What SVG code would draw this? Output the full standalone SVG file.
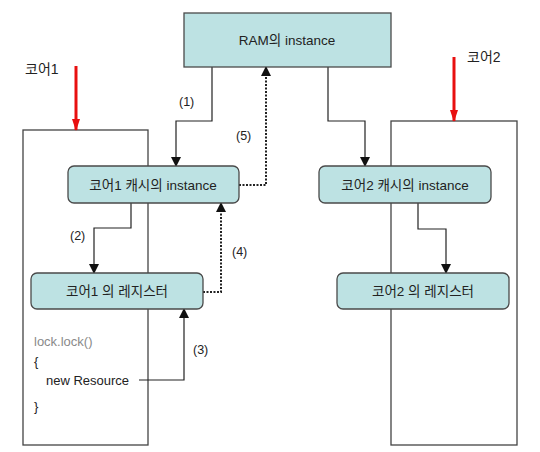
<svg xmlns="http://www.w3.org/2000/svg" width="540" height="452" viewBox="0 0 540 452">
<defs>
<style>
.core{fill:#fff;stroke:#444;stroke-width:1.3}
.node{fill:#bde2e3;stroke:#4a4a4a;stroke-width:1.3}
.t{font-family:"Liberation Sans","Noto Sans CJK KR",sans-serif;font-size:13.5px;fill:#222;text-anchor:middle}
.lbl{font-family:"Liberation Sans","Noto Sans CJK KR",sans-serif;font-size:12.5px;fill:#222}
.code{font-family:"Liberation Sans","Noto Sans CJK KR",sans-serif;font-size:13px;fill:#222}
.conn{fill:none;stroke:#222;stroke-width:1.2}
.dot{fill:none;stroke:#222;stroke-width:2;stroke-dasharray:2 1.5}
.red{fill:none;stroke:#e81010;stroke-width:3}
</style>
<marker id="ah" markerWidth="10" markerHeight="10" refX="9" refY="5" orient="auto" markerUnits="userSpaceOnUse">
<path d="M0,0 L10,5 L0,10 z" fill="#111"/>
</marker>
<marker id="rh" markerWidth="12" markerHeight="10" refX="11" refY="5" orient="auto" markerUnits="userSpaceOnUse">
<path d="M0,1 L12,5 L0,9 z" fill="#e81010"/>
</marker>
</defs>
<rect width="540" height="452" fill="#fff"/>

<g id="core1">
<rect class="core" x="23" y="130" width="125" height="315"/>
<text class="lbl" x="25" y="74" style="font-size:14px">코어1</text>
<text class="code" x="34" y="346" style="fill:#8a8a8a">lock.lock()</text>
<text class="code" x="34" y="366">{</text>
<text class="code" x="46" y="385">new Resource</text>
<text class="code" x="34" y="411">}</text>
</g>
<g id="core2">
<rect class="core" x="391" y="121" width="126" height="324"/>
<text class="lbl" x="467" y="62" style="font-size:14px">코어2</text>
</g>

<g id="connectors">
<path class="red" d="M76,66 V130" marker-end="url(#rh)"/>
<path class="red" d="M454,57 V121" marker-end="url(#rh)"/>
<path class="conn" d="M212,67 V121 H176 V166" marker-end="url(#ah)"/>
<path class="conn" d="M328,67 V121 H365 V166" marker-end="url(#ah)"/>
<path class="dot" d="M239,185 H266 V67" marker-end="url(#ah)"/>
<path class="conn" d="M131,203 V228 H94 V273" marker-end="url(#ah)"/>
<path class="dot" d="M203,292 H221 V203" marker-end="url(#ah)"/>
<path class="conn" d="M139,380 H184 V309" marker-end="url(#ah)"/>
<path class="conn" d="M418,203 V229 H446 V273" marker-end="url(#ah)"/>
<text class="lbl" x="179" y="106">(1)</text>
<text class="lbl" x="236" y="140">(5)</text>
<text class="lbl" x="70" y="240">(2)</text>
<text class="lbl" x="232" y="256">(4)</text>
<text class="lbl" x="193" y="354">(3)</text>
</g>

<g id="ram">
<rect class="node" x="184" y="13" width="207" height="54"/>
<text class="t" x="287" y="45">RAM의 instance</text>
</g>
<g id="cache1">
<rect class="node" x="68" y="166" width="171" height="37" rx="6"/>
<text class="t" x="153" y="190">코어1 캐시의 instance</text>
</g>
<g id="cache2">
<rect class="node" x="319" y="166" width="172" height="37" rx="6"/>
<text class="t" x="405" y="190">코어2 캐시의 instance</text>
</g>
<g id="reg1">
<rect class="node" x="31" y="273" width="172" height="36" rx="6"/>
<text class="t" x="117" y="296">코어1 의 레지스터</text>
</g>
<g id="reg2">
<rect class="node" x="337" y="273" width="172" height="36" rx="6"/>
<text class="t" x="423" y="296">코어2 의 레지스터</text>
</g>
</svg>
